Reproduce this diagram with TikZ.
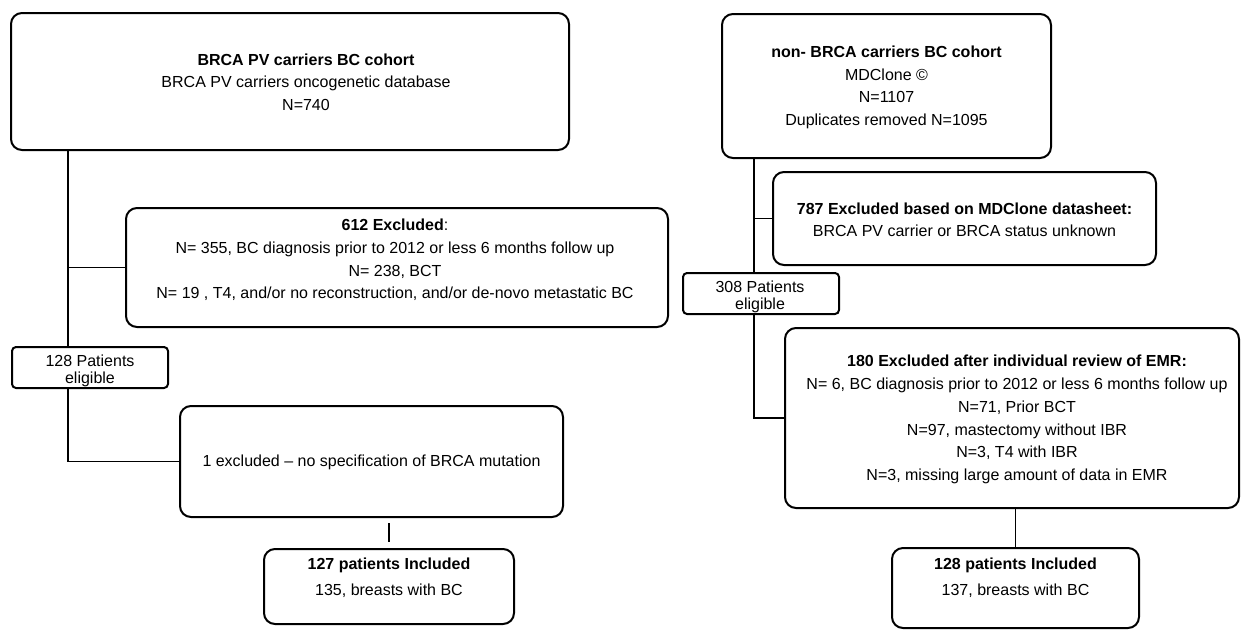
\documentclass[tikz,border=0pt]{standalone}
\usepackage{fontspec}
\setmainfont{Liberation Sans}
\usetikzlibrary{backgrounds}

\begin{document}
\begin{tikzpicture}[x=1pt, y=-1pt,
	box/.style={draw, line width=2pt, rounded corners=11pt, fill=white, inner sep=0pt},
	tag/.style={box, rounded corners=4pt},
	txt/.style={align=center, inner sep=0pt, font=\fontsize{16}{22.7}\selectfont},
	link/.style={line width=1.9pt}]
	\useasboundingbox (0,0) rectangle (1241,630);
% left column
\node[box, minimum width=558pt, minimum height=137pt] (cohortA) at (290,81.5) {}; % cohortA
\node[txt] (cohortAtext) at (306,82) {\textbf{BRCA PV carriers BC cohort}\\BRCA PV carriers oncogenetic database\\N=740}; % cohortA
\node[box, minimum width=542pt, minimum height=119pt] (exclA) at (397,267.5) {}; % exclA
\node[txt] (exclAtext) at (395,260) {\textbf{612 Excluded}:\\N= 355, BC diagnosis prior to 2012 or less 6 months follow up\\N= 238, BCT\\N= 19 , T4, and/or no reconstruction, and/or de-novo metastatic BC}; % exclA
\node[tag, minimum width=156pt, minimum height=41pt] (eligA) at (90,367.5) {}; % eligA
\node[txt, font=\fontsize{16}{16.5}\selectfont] (eligAtext) at (90,371) {128 Patients\\eligible}; % eligA
\node[box, minimum width=383pt, minimum height=111pt] (mutA) at (371.5,461.5) {}; % mutA
\node[txt] (mutAtext) at (371.5,462) {1 excluded -- no specification of BRCA mutation}; % mutA
\node[box, minimum width=250pt, minimum height=75pt] (inclA) at (389,586.5) {}; % inclA
\node[txt] (inclAtext) at (389,577.5) {\textbf{127 patients Included}\\[3.3pt]135, breasts with BC}; % inclA
% right column
\node[box, minimum width=329pt, minimum height=144pt] (cohortB) at (886.5,86) {}; % cohortB
\node[txt] (cohortBtext) at (886.5,87.5) {\textbf{non- BRCA carriers BC cohort}\\MDClone ©\\N=1107\\Duplicates removed N=1095}; % cohortB
\node[box, minimum width=383pt, minimum height=93pt] (exclB) at (964.5,218.5) {}; % exclB
\node[txt, font=\fontsize{16}{22}\selectfont] (exclBtext) at (964.5,219.5) {\textbf{787 Excluded based on MDClone datasheet:}\\BRCA PV carrier or BRCA status unknown}; % exclB
\node[tag, minimum width=156pt, minimum height=41pt] (eligB) at (761,293.5) {}; % eligB
\node[txt, font=\fontsize{16}{16.5}\selectfont] (eligBtext) at (760,297) {308 Patients\\eligible}; % eligB
\node[box, minimum width=454pt, minimum height=180pt] (reviewB) at (1012,418) {}; % reviewB
\node[txt, font=\fontsize{16}{22.8}\selectfont] (reviewBtext) at (1017,419.5) {\textbf{180 Excluded after individual review of EMR:}\\N= 6, BC diagnosis prior to 2012 or less 6 months follow up\\N=71, Prior BCT\\N=97, mastectomy without IBR\\N=3, T4 with IBR\\N=3, missing large amount of data in EMR}; % reviewB
\node[box, minimum width=247pt, minimum height=80pt] (inclB) at (1015.5,588) {}; % inclB
\node[txt] (inclBtext) at (1015.5,578) {\textbf{128 patients Included}\\[3.3pt]137, breasts with BC}; % inclB
% links
\coordinate (trunkA) at (68,150);
\coordinate (trunkB) at (754,158);
\begin{scope}[on background layer]
\draw[link] (trunkA) |- (mutA.west); % trunkA
\draw[link] (exclA.west) -- (exclA.west -| trunkA); % exclA
\draw[link, shorten <=5pt, shorten >=6pt] (inclA.north |- mutA.south) -- (inclA.north); % inclA
\draw[link] (trunkB) |- (reviewB.west); % trunkB
\draw[link] (exclB.west) -- (exclB.west -| trunkB); % exclB
\draw[link] (inclB.north |- reviewB.south) -- (inclB.north); % inclB
\end{scope}
	\end{tikzpicture}
\end{document}
